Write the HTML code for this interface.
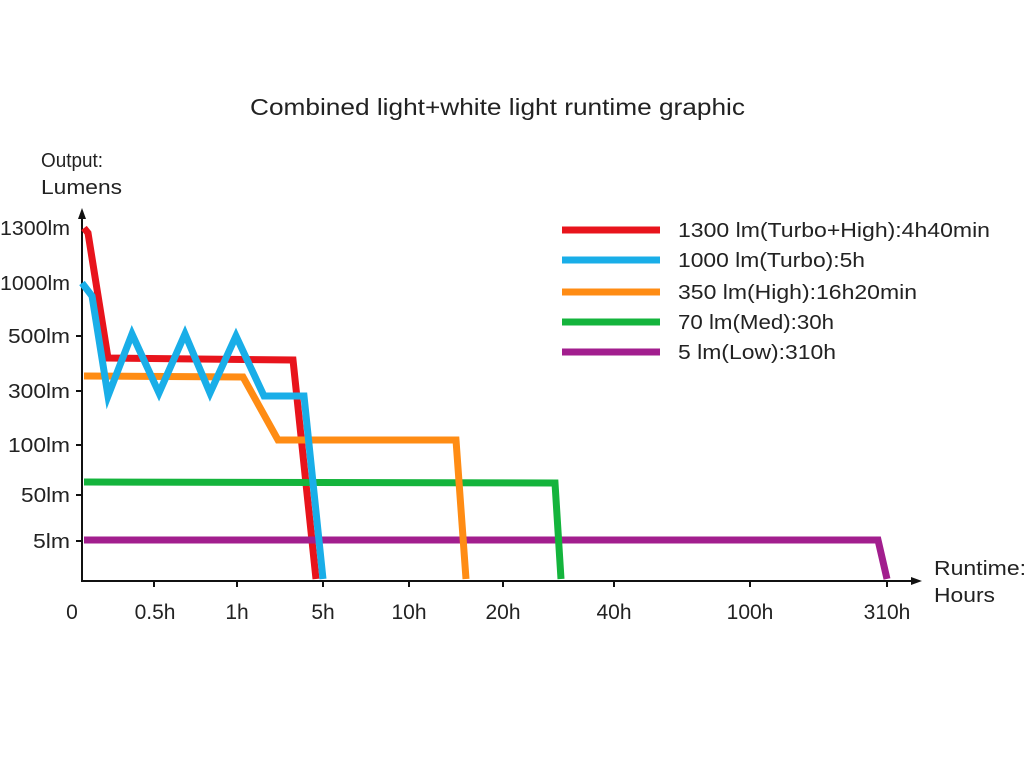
<!DOCTYPE html>
<html><head><meta charset="utf-8"><style>
body{margin:0;background:#fff}
svg{display:block;font-family:"Liberation Sans",Arial,sans-serif;fill:#222}
</style></head><body>
<svg width="1024" height="768" viewBox="0 0 1024 768">
<rect width="1024" height="768" fill="#fff"/>
<text x="250" y="115" font-size="23" textLength="495" lengthAdjust="spacingAndGlyphs">Combined light+white light runtime graphic</text>
<text x="41" y="167" font-size="20" textLength="62" lengthAdjust="spacingAndGlyphs">Output:</text>
<text x="41" y="194" font-size="20" textLength="81" lengthAdjust="spacingAndGlyphs">Lumens</text>
<text x="934" y="575" font-size="20" textLength="92" lengthAdjust="spacingAndGlyphs">Runtime:</text>
<text x="934" y="602" font-size="20" textLength="61" lengthAdjust="spacingAndGlyphs">Hours</text>
<g stroke="#111" stroke-width="2" fill="none">
<line x1="82" y1="581" x2="82" y2="218"/>
<line x1="81" y1="581" x2="914" y2="581"/>
<line x1="154" y1="581" x2="154" y2="587"/><line x1="237" y1="581" x2="237" y2="587"/>
<line x1="323" y1="581" x2="323" y2="587"/><line x1="409" y1="581" x2="409" y2="587"/>
<line x1="503" y1="581" x2="503" y2="587"/><line x1="614" y1="581" x2="614" y2="587"/>
<line x1="750" y1="581" x2="750" y2="587"/><line x1="887" y1="581" x2="887" y2="587"/>
<line x1="76" y1="336" x2="82" y2="336"/><line x1="76" y1="391" x2="82" y2="391"/>
<line x1="76" y1="445" x2="82" y2="445"/><line x1="76" y1="495" x2="82" y2="495"/>
<line x1="76" y1="541" x2="82" y2="541"/>
</g>
<polygon points="82,208 78,219 86,219" fill="#111"/>
<polygon points="922,581 911,577 911,585" fill="#111"/>
<g font-size="20" lengthAdjust="spacingAndGlyphs">
<text x="0" y="235" textLength="70" lengthAdjust="spacingAndGlyphs">1300lm</text>
<text x="0" y="290" textLength="70" lengthAdjust="spacingAndGlyphs">1000lm</text>
<text x="8" y="343" textLength="62" lengthAdjust="spacingAndGlyphs">500lm</text>
<text x="8" y="398" textLength="62" lengthAdjust="spacingAndGlyphs">300lm</text>
<text x="8" y="452" textLength="62" lengthAdjust="spacingAndGlyphs">100lm</text>
<text x="21" y="502" textLength="49" lengthAdjust="spacingAndGlyphs">50lm</text>
<text x="33" y="548" textLength="37" lengthAdjust="spacingAndGlyphs">5lm</text>
</g>
<g font-size="21" text-anchor="middle">
<text x="72" y="619">0</text><text x="155" y="619">0.5h</text><text x="237" y="619">1h</text>
<text x="323" y="619">5h</text><text x="409" y="619">10h</text><text x="503" y="619">20h</text>
<text x="614" y="619">40h</text><text x="750" y="619">100h</text><text x="887" y="619">310h</text>
</g>
<g fill="none" stroke-width="7" stroke-linejoin="miter">
<polyline stroke="#e8141c" points="84,228 88,233 108,358 293,360 316,579"/>
<polyline stroke="#a21e8e" points="84,540 878,540 887,579"/>
<polyline stroke="#14b43c" points="84,482 555,483 561,579"/>
<polyline stroke="#ff8c14" points="84,376 243,377 278,440 456,440 466,579"/>
<polyline stroke="#19aee8" points="82,283 92,296 108,396 132,334 159,393 185,334 210,393 236,336 264,396 304,396 323,579"/>
</g>
<g stroke-width="7">
<line x1="562" y1="230" x2="660" y2="230" stroke="#e8141c"/>
<line x1="562" y1="260" x2="660" y2="260" stroke="#19aee8"/>
<line x1="562" y1="292" x2="660" y2="292" stroke="#ff8c14"/>
<line x1="562" y1="322" x2="660" y2="322" stroke="#14b43c"/>
<line x1="562" y1="352" x2="660" y2="352" stroke="#a21e8e"/>
</g>
<g font-size="20">
<text x="678" y="237" textLength="312" lengthAdjust="spacingAndGlyphs">1300 lm(Turbo+High):4h40min</text>
<text x="678" y="267" textLength="187" lengthAdjust="spacingAndGlyphs">1000 lm(Turbo):5h</text>
<text x="678" y="299" textLength="239" lengthAdjust="spacingAndGlyphs">350 lm(High):16h20min</text>
<text x="678" y="329" textLength="156" lengthAdjust="spacingAndGlyphs">70 lm(Med):30h</text>
<text x="678" y="359" textLength="158" lengthAdjust="spacingAndGlyphs">5 lm(Low):310h</text>
</g>
</svg>
</body></html>
